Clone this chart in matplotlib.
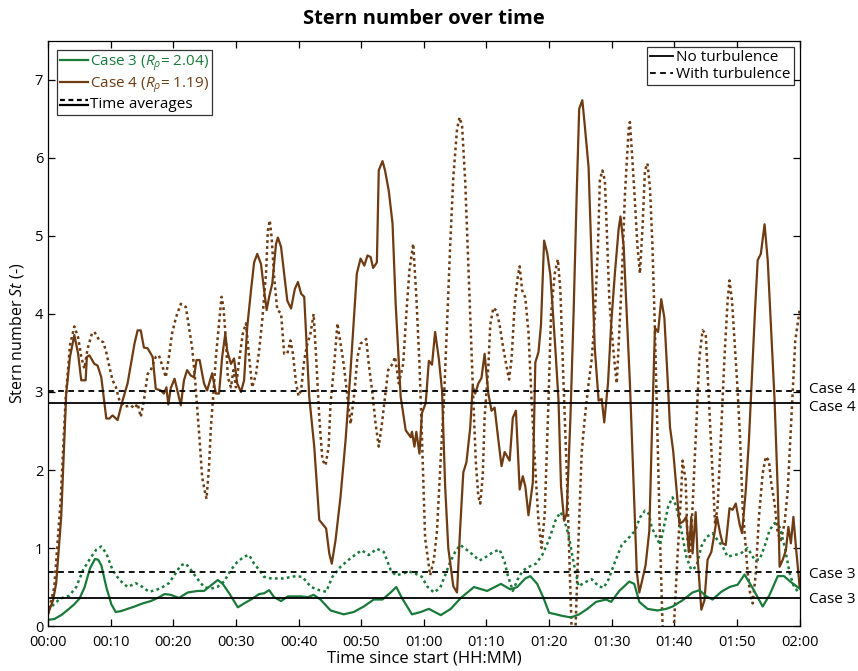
import matplotlib
matplotlib.use("Agg")
import matplotlib.pyplot as plt
from matplotlib.legend_handler import HandlerBase
from matplotlib.lines import Line2D
from matplotlib import transforms

plt.rcParams['font.family'] = ['Open Sans', 'DejaVu Sans']
plt.rcParams['mathtext.fontset'] = 'custom'
plt.rcParams['mathtext.rm'] = 'Open Sans'
plt.rcParams['mathtext.it'] = 'Open Sans:italic'

# time in minutes since start
c4_t = [0.0, 0.8, 1.3, 2.1, 2.9, 3.5, 4.2, 4.8, 5.3, 6.0, 6.2, 6.6, 7.4, 7.9, 8.5, 9.3, 9.8,
        10.3, 11.1, 11.9, 12.7, 13.8, 14.3, 14.8, 15.3, 15.9, 16.7, 17.2, 18.0, 18.5, 18.9,
        19.2, 19.6, 20.2, 21.2, 21.7, 22.2, 22.8, 23.3, 23.7, 24.2, 24.9, 25.4, 26.2, 26.8,
        27.3, 27.8, 28.3, 28.6, 29.2, 29.7, 30.2, 30.8, 31.3, 31.8, 32.4, 32.9, 33.4, 34.0,
        34.5, 34.9, 35.3, 35.8, 36.4, 36.7, 37.2, 37.7, 38.2, 38.8, 39.4, 39.9, 40.4, 40.9,
        41.7, 42.5, 43.3, 44.4, 44.9, 45.3, 45.9, 46.7, 47.5, 48.3, 49.3, 49.9, 50.5, 51.0,
        51.5, 51.9, 52.5, 52.8, 53.4, 53.8, 54.4, 55.0, 55.5, 56.3, 57.1, 57.9, 58.1, 58.5,
        58.8, 59.3, 59.7, 60.3, 60.8, 61.3, 61.8, 62.4, 62.9, 63.4, 63.9, 64.7, 65.3, 65.8,
        66.3, 66.8, 67.4, 67.8, 68.2, 68.7, 69.2, 69.7, 70.3, 70.8, 71.3, 71.8, 72.4, 72.9,
        73.7, 74.2, 74.7, 75.3, 75.8, 76.2, 76.7, 77.4, 77.8, 78.3, 78.7, 79.2, 79.7, 80.2,
        81.0, 81.5, 81.9, 82.4, 82.8, 83.4, 83.9, 84.4, 84.8, 85.3, 85.7, 86.3, 86.8, 87.3,
        87.9, 88.4, 88.8, 89.4, 89.9, 90.5, 91.1, 91.4, 91.9, 92.4, 92.9, 93.5, 94.0, 94.4,
        94.9, 95.4, 96.0, 96.4, 96.9, 97.4, 97.9, 98.4, 98.9, 99.3, 99.8, 100.4, 100.8,
        101.4, 101.9, 102.3, 102.7, 102.9, 103.4, 103.7, 104.3, 104.8, 105.3, 105.9, 106.4,
        106.8, 107.3, 107.7, 108.2, 108.8, 109.3, 109.8, 110.4, 110.8, 111.4, 111.9, 112.4,
        112.9, 113.3, 113.8, 114.4, 114.9, 115.4, 116.0, 116.5, 116.8, 117.3, 117.8, 118.2,
        118.6, 119.0, 119.4, 120.0]
c4_v = [0.16, 0.33, 0.55, 1.40, 2.98, 3.45, 3.73, 3.49, 3.15, 3.15, 3.45, 3.47, 3.36, 3.34,
        3.19, 2.66, 2.66, 2.70, 2.64, 2.89, 3.11, 3.62, 3.79, 3.79, 3.57, 3.56, 3.45, 3.04,
        3.02, 2.98, 3.06, 2.84, 3.05, 3.17, 2.83, 3.15, 3.28, 3.21, 3.19, 3.41, 3.41, 3.11,
        3.02, 3.24, 2.98, 2.98, 3.45, 3.75, 3.53, 3.36, 3.43, 3.11, 3.00, 3.15, 3.83, 4.30,
        4.66, 4.77, 4.64, 4.30, 4.05, 4.22, 4.39, 4.90, 4.98, 4.86, 4.51, 4.17, 4.07, 4.32,
        4.41, 4.26, 4.22, 2.94, 2.30, 1.36, 1.25, 0.93, 0.80, 1.10, 1.66, 2.38, 3.28, 4.52,
        4.71, 4.62, 4.75, 4.73, 4.59, 4.66, 5.84, 5.96, 5.84, 5.58, 5.16, 4.13, 2.94, 2.51,
        2.42, 2.49, 2.30, 2.49, 2.21, 2.73, 2.86, 3.40, 3.35, 3.77, 3.42, 3.02, 1.79, 1.00,
        0.51, 0.43, 1.26, 1.97, 2.10, 2.54, 3.07, 2.98, 3.11, 3.18, 3.49, 2.98, 2.76, 2.80,
        2.45, 2.05, 2.23, 2.12, 2.67, 2.76, 1.75, 1.92, 1.79, 1.42, 1.84, 3.38, 3.51, 3.86,
        4.94, 4.78, 4.50, 3.55, 2.89, 1.79, 1.35, 1.44, 2.67, 3.99, 5.53, 6.63, 6.74, 6.41,
        5.88, 4.65, 3.55, 2.89, 2.91, 2.61, 3.11, 3.86, 4.52, 5.09, 5.25, 4.87, 3.99, 3.11,
        1.79, 0.69, 0.43, 0.60, 0.78, 1.22, 2.45, 3.82, 3.77, 4.19, 3.95, 3.20, 2.55, 2.25,
        1.70, 1.31, 1.34, 1.40, 0.95, 1.40, 0.93, 1.46, 0.89, 0.21, 0.33, 0.85, 0.95, 1.19,
        1.40, 1.19, 1.06, 1.04, 1.51, 1.49, 1.57, 1.31, 1.19, 1.74, 2.38, 3.24, 4.09, 4.69,
        4.77, 5.15, 4.69, 3.88, 2.89, 1.74, 0.76, 0.85, 0.97, 1.27, 1.06, 1.40, 1.02, 0.50]

c4_turb_t = [0.0, 1.0, 2.0, 2.8, 3.5, 4.2, 4.8, 5.3, 5.8, 6.3, 7.0, 7.4, 8.2, 8.8, 9.3, 9.8,
             10.3, 10.8, 11.4, 12.2, 13.2, 13.8, 14.3, 14.8, 15.3, 15.9, 16.4, 17.2, 17.7,
             18.3, 18.8, 19.3, 19.8, 20.4, 21.2, 22.0, 22.5, 23.0, 23.4, 23.8, 24.2, 24.6,
             25.1, 25.3, 25.7, 26.0, 26.4, 26.8, 27.3, 27.7, 28.0, 28.4, 28.7, 29.2, 29.6,
             30.0, 30.5, 31.1, 31.6, 32.1, 32.6, 33.2, 33.7, 34.2, 34.8, 35.1, 35.4, 35.7,
             36.1, 36.6, 37.2, 37.7, 38.2, 38.7, 39.1, 39.6, 40.0, 40.4, 40.9, 41.4, 41.9,
             42.4, 42.8, 43.3, 43.8, 44.3, 44.8, 45.1, 45.7, 46.2, 46.7, 47.2, 47.8, 48.3,
             48.9, 49.4, 49.9, 50.8, 51.2, 51.8, 52.3, 52.8, 53.3, 53.8, 54.3, 55.0, 55.4,
             56.0, 56.7, 57.2, 57.7, 58.3, 58.8, 59.3, 59.7, 60.2, 61.0, 61.6, 62.1, 62.6,
             63.2, 63.7, 64.2, 64.7, 65.3, 65.7, 66.1, 66.6, 67.1, 67.5, 67.9, 68.3, 68.7,
             69.0, 69.4, 69.7, 70.3, 70.6, 71.1, 71.6, 72.1, 72.6, 73.2, 73.6, 74.0, 74.5,
             75.0, 75.3, 75.7, 76.2, 76.7, 77.2, 77.8, 78.3, 78.8, 79.3, 79.9, 80.3, 80.9,
             81.4, 81.8, 82.3, 82.8, 83.3, 83.7, 84.1, 84.7, 85.2, 85.7, 86.3, 86.8, 87.3,
             87.8, 88.1, 88.5, 88.9, 89.2, 89.6, 90.0, 90.5, 90.8, 91.2, 91.6, 92.1, 92.7,
             92.9, 93.3, 93.7, 94.1, 94.5, 94.9, 95.3, 95.7, 96.1, 96.5, 96.9, 97.3, 97.7,
             98.3, 99.6, 100.0, 100.5, 101.1, 101.3, 101.8, 102.1, 102.5, 102.9, 103.5,
             104.0, 104.5, 105.0, 105.3, 105.7, 106.1, 106.5, 106.9, 107.4, 108.0, 108.5,
             108.8, 109.2, 109.6, 110.1, 110.5, 110.9, 111.3, 111.7, 112.1, 112.5, 113.0,
             113.5, 114.1, 114.6, 115.1, 115.4, 116.0, 116.5, 117.0, 117.6, 118.1, 118.5,
             118.9, 119.3, 120.0]
c4_turb_v = [0.15, 0.50, 1.60, 2.90, 3.60, 3.84, 3.70, 3.45, 3.30, 3.55, 3.75, 3.77, 3.66,
             3.64, 3.51, 3.32, 3.15, 3.07, 2.89, 2.81, 2.83, 2.79, 2.85, 2.68, 2.89, 3.23,
             3.28, 3.45, 3.47, 3.32, 3.19, 3.45, 3.75, 3.95, 4.13, 4.09, 3.83, 3.57, 3.24,
             2.81, 2.38, 1.91, 1.70, 1.63, 2.04, 2.55, 2.98, 3.45, 3.88, 4.22, 4.09, 3.66,
             3.19, 3.06, 3.28, 3.06, 3.40, 3.75, 3.88, 3.45, 3.06, 3.23, 3.53, 3.92, 4.52,
             5.07, 5.20, 4.98, 4.47, 4.05, 4.01, 3.49, 3.49, 3.66, 3.49, 3.11, 2.95, 3.02,
             3.41, 3.62, 3.75, 4.00, 3.45, 2.68, 2.13, 2.06, 2.30, 2.85, 3.36, 3.88, 3.62,
             3.36, 2.94, 2.59, 2.98, 3.45, 3.62, 3.68, 3.36, 2.98, 2.59, 2.30, 2.59, 2.94,
             3.28, 3.36, 3.45, 3.11, 3.36, 4.00, 4.56, 4.90, 4.22, 3.36, 2.41, 1.13, 0.65,
             0.85, 1.22, 2.01, 2.89, 3.86, 4.87, 5.75, 6.37, 6.52, 6.41, 5.71, 4.65, 3.77,
             2.89, 2.10, 1.66, 1.57, 1.92, 2.67, 3.33, 3.86, 4.08, 4.04, 3.86, 3.60, 3.33,
             3.16, 3.42, 4.12, 4.48, 4.61, 4.30, 4.21, 3.77, 2.89, 2.01, 1.35, 1.00, 1.44,
             2.89, 3.99, 4.52, 4.70, 4.30, 3.11, 2.01, 0.69, -0.30, -0.30, 1.13, 2.23, 2.67,
             3.11, 3.42, 3.99, 4.87, 5.71, 5.84, 5.71, 5.09, 4.21, 3.77, 3.33, 3.11, 3.77,
             4.43, 5.53, 6.37, 6.46, 5.97, 5.44, 4.87, 4.52, 5.09, 5.84, 5.93, 5.62, 4.87,
             3.77, 2.45, 1.13, -0.50, -0.50, 0.12, 0.89, 1.74, 2.12, 1.87, 1.10, 0.85, 1.53,
             2.59, 3.45, 3.79, 3.75, 3.24, 2.59, 1.96, 1.31, 1.53, 2.38, 3.45, 4.17, 4.43,
             4.17, 3.66, 3.02, 2.38, 1.53, 1.10, 0.68, 0.42, 0.29, 0.68, 1.40, 1.96, 2.17,
             2.12, 1.87, 1.57, 1.19, 1.10, 1.32, 1.74, 2.38, 3.02, 3.66, 4.05]

c3_t = [0.0, 1.0, 2.1, 3.2, 4.2, 5.0, 5.8, 6.7, 7.5, 8.0, 8.5, 9.3, 10.1, 10.8, 11.6, 12.7,
        13.8, 15.1, 16.4, 17.5, 18.6, 19.6, 20.9, 22.3, 23.9, 24.9, 26.0, 27.1, 27.9, 29.0,
        30.3, 31.3, 32.4, 33.7, 34.5, 35.3, 36.1, 37.2, 38.3, 39.3, 40.4, 41.5, 42.4, 43.5,
        45.1, 47.2, 48.8, 50.4, 52.0, 53.4, 54.7, 55.6, 56.5, 58.1, 59.5, 60.8, 62.7, 64.3,
        65.9, 68.0, 70.1, 72.3, 73.8, 74.9, 76.2, 77.0, 78.1, 79.1, 80.0, 81.1, 82.1, 83.5,
        84.8, 86.1, 87.5, 89.1, 89.9, 91.2, 92.8, 93.6, 94.4, 95.7, 97.3, 98.7, 99.7, 101.3,
        102.9, 104.0, 105.1, 106.1, 107.5, 108.8, 110.1, 111.2, 112.4, 114.1, 115.2, 116.5,
        117.5, 118.5, 120.0]
c3_v = [0.08, 0.09, 0.14, 0.21, 0.28, 0.35, 0.49, 0.74, 0.86, 0.85, 0.78, 0.50, 0.28, 0.18,
        0.19, 0.22, 0.25, 0.29, 0.32, 0.36, 0.41, 0.40, 0.36, 0.43, 0.45, 0.45, 0.52, 0.59,
        0.54, 0.41, 0.24, 0.29, 0.34, 0.41, 0.42, 0.46, 0.37, 0.32, 0.38, 0.38, 0.38, 0.37,
        0.40, 0.34, 0.20, 0.15, 0.18, 0.25, 0.34, 0.34, 0.43, 0.50, 0.36, 0.15, 0.18, 0.22,
        0.14, 0.22, 0.36, 0.50, 0.45, 0.54, 0.47, 0.50, 0.61, 0.64, 0.54, 0.36, 0.17, 0.15,
        0.13, 0.11, 0.15, 0.22, 0.31, 0.34, 0.31, 0.45, 0.57, 0.54, 0.31, 0.22, 0.20, 0.22,
        0.25, 0.33, 0.43, 0.46, 0.38, 0.34, 0.44, 0.50, 0.53, 0.66, 0.50, 0.25, 0.40, 0.64,
        0.64, 0.57, 0.48]

c3_turb_t = [0.0, 0.3, 1.9, 3.4, 4.5, 5.6, 6.6, 7.7, 8.5, 9.3, 10.3, 11.4, 12.7, 14.0, 15.1,
             16.1, 17.2, 18.3, 19.3, 20.4, 21.2, 22.0, 22.8, 23.8, 24.9, 26.0, 27.0, 28.1,
             29.2, 30.2, 31.3, 32.1, 32.9, 33.7, 34.5, 35.6, 36.6, 37.7, 38.8, 39.6, 40.6,
             42.0, 43.3, 44.4, 45.4, 46.7, 48.0, 49.3, 50.1, 51.2, 52.5, 53.6, 54.7, 55.5,
             56.6, 57.6, 58.7, 59.7, 60.5, 61.6, 62.6, 63.4, 64.2, 65.0, 65.8, 66.8, 67.9,
             68.9, 70.0, 71.1, 72.1, 72.9, 73.4, 74.2, 75.0, 75.8, 76.8, 77.9, 78.9, 80.0,
             81.0, 81.8, 82.3, 83.1, 83.9, 84.7, 85.7, 86.8, 87.9, 88.7, 89.5, 90.5, 91.6,
             92.7, 93.7, 94.5, 95.3, 95.9, 96.4, 97.2, 97.7, 98.2, 99.0, 99.7, 100.3, 101.1,
             101.9, 102.7, 103.5, 104.3, 105.1, 106.1, 106.9, 107.7, 108.5, 109.6, 110.6,
             111.7, 112.8, 113.6, 114.4, 115.2, 116.0, 116.8, 117.6, 118.4, 119.1, 120.0]
c3_turb_v = [0.20, 0.23, 0.35, 0.39, 0.50, 0.72, 0.85, 0.98, 1.02, 0.93, 0.72, 0.59, 0.50,
             0.55, 0.50, 0.44, 0.46, 0.50, 0.55, 0.68, 0.78, 0.80, 0.72, 0.61, 0.50, 0.48,
             0.50, 0.57, 0.72, 0.82, 0.89, 0.91, 0.80, 0.72, 0.63, 0.61, 0.61, 0.61, 0.63,
             0.64, 0.63, 0.50, 0.46, 0.44, 0.63, 0.76, 0.85, 0.93, 0.97, 0.91, 0.99, 0.95,
             0.72, 0.65, 0.67, 0.70, 0.67, 0.63, 0.51, 0.43, 0.49, 0.65, 0.82, 0.95, 1.04,
             0.98, 0.91, 0.84, 0.89, 0.95, 0.98, 0.82, 0.65, 0.45, 0.60, 0.71, 0.76, 0.80,
             0.91, 1.11, 1.35, 1.46, 1.39, 1.17, 0.82, 0.51, 0.56, 0.60, 0.51, 0.49, 0.60,
             0.82, 1.04, 1.13, 1.22, 1.39, 1.48, 1.44, 1.26, 1.13, 1.04, 1.22, 1.53, 1.65,
             1.53, 1.23, 0.89, 0.72, 0.76, 1.02, 1.14, 1.19, 1.10, 1.02, 0.89, 0.91, 0.93,
             1.00, 0.85, 0.85, 1.02, 1.23, 1.32, 1.27, 1.02, 0.68, 0.50, 0.42]

# time averages (no turbulence / with turbulence)
avg_c4, avg_c4_turb = 2.86, 3.01
avg_c3, avg_c3_turb = 0.36, 0.69

green = '#1a7a3a'
brown = '#6e3b12'
dots = (0, (1.1, 1.3))
dashes = (0, (3.2, 2.4))


class StackedHandler(HandlerBase):
    # dashed line stacked over a solid one
    def create_artists(self, legend, orig_handle, xdescent, ydescent,
                       width, height, fontsize, trans):
        y = height / 2 - ydescent
        x = [-xdescent, width - xdescent]
        top = Line2D(x, [y + 2, y + 2], color='k', lw=1.6, linestyle=(0, (2.2, 1.6)))
        bot = Line2D(x, [y - 1.5, y - 1.5], color='k', lw=1.6)
        for a in (top, bot):
            a.set_transform(trans)
        return [top, bot]


fig = plt.figure(figsize=(8.58, 6.71), dpi=100)
ax = fig.add_axes([0.056, 0.067, 0.876, 0.872])

ax.plot(c4_turb_t, c4_turb_v, color=brown, lw=1.8, linestyle=dots)
ax.plot(c3_turb_t, c3_turb_v, color=green, lw=1.8, linestyle=dots)
ax.plot(c4_t, c4_v, color=brown, lw=1.6)
ax.plot(c3_t, c3_v, color=green, lw=1.6)

for v, ls in [(avg_c4_turb, dashes), (avg_c4, '-'), (avg_c3_turb, dashes), (avg_c3, '-')]:
    ax.axhline(v, color='k', lw=1.3, linestyle=ls)

trans = transforms.blended_transform_factory(ax.transAxes, ax.transData)
ax.text(1.012, avg_c4_turb + 0.02, 'Case 4', transform=trans, va='center', fontsize=11)
ax.text(1.012, avg_c4 - 0.06, 'Case 4', transform=trans, va='center', fontsize=11)
ax.text(1.012, avg_c3_turb - 0.03, 'Case 3', transform=trans, va='center', fontsize=11)
ax.text(1.012, avg_c3 - 0.02, 'Case 3', transform=trans, va='center', fontsize=11)

ax.set_xlim(0, 120)
ax.set_ylim(0, 7.5)
ticks = list(range(0, 121, 10))
ax.set_xticks(ticks, [f'{m // 60:02d}:{m % 60:02d}' for m in ticks])
ax.set_yticks(range(0, 8))
ax.tick_params(direction='in', top=True, right=True, labelsize=10.5, length=5, width=0.9)
ax.tick_params(axis='x', pad=6.5)
for s in ax.spines.values():
    s.set_linewidth(0.9)

ax.set_title('Stern number over time', fontsize=14.5, fontweight='bold', pad=12)
ax.set_xlabel('Time since start (HH:MM)', fontsize=12, labelpad=0.5)
ax.set_ylabel(r'Stern number $\mathit{St}$ (-)', fontsize=11.5, labelpad=6)

h3 = Line2D([], [], color=green, lw=1.6)
h4 = Line2D([], [], color=brown, lw=1.6)
havg = Line2D([], [], color='k')
leg1 = ax.legend([h3, h4, havg],
                 [r'Case 3 ($R_\rho$= 2.04)', r'Case 4 ($R_\rho$= 1.19)', 'Time averages'],
                 handler_map={havg: StackedHandler()}, loc='upper left',
                 fontsize=11, frameon=True, fancybox=False, edgecolor='k',
                 borderaxespad=0.6, handlelength=1.8, handletextpad=0.15,
                 labelspacing=0.15, borderpad=0.2)
leg1.get_frame().set_linewidth(0.9)
leg1.get_texts()[0].set_color(green)
leg1.get_texts()[1].set_color(brown)
ax.add_artist(leg1)

hs = Line2D([], [], color='k', lw=1.3)
hd = Line2D([], [], color='k', lw=1.3, linestyle=dashes)
leg2 = ax.legend([hs, hd], ['No turbulence', 'With turbulence'], loc='upper right',
                 fontsize=11, frameon=True, fancybox=False, edgecolor='k',
                 borderaxespad=0.4, handlelength=1.5, handletextpad=0.2,
                 labelspacing=0.15, borderpad=0.2)
leg2.get_frame().set_linewidth(0.9)

fig.savefig('out.png', dpi=100)
